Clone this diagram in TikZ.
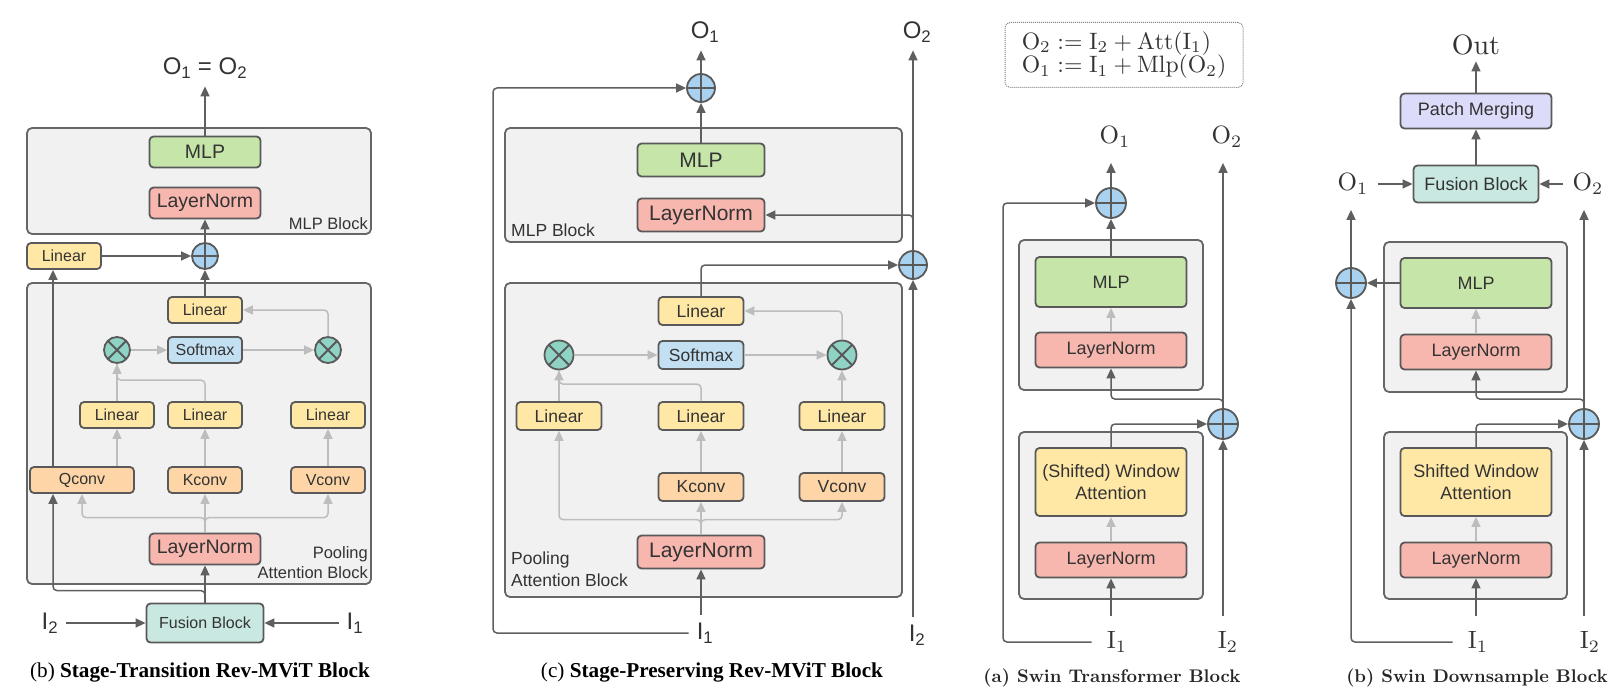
\RequirePackage{fix-cm}
\documentclass[tikz,border=0pt]{standalone}
\usepackage{fontspec}
\newfontfamily\lsans{Liberation Sans}
\newfontfamily\lserif{Liberation Serif}
\usepackage{tikz}
\usetikzlibrary{arrows.meta}

\newcommand\fsz[2]{\fontsize{#1}{#2}\selectfont}
\newcommand\sclab[1]{\scalebox{2.5}{$#1$}}

\definecolor{blkfill}{HTML}{F1F1F1}
\definecolor{blkline}{HTML}{666666}
\definecolor{boxline}{HTML}{595959}
\definecolor{arrc}{HTML}{5F5F5F}
\definecolor{grayc}{HTML}{BDBDBD}
\definecolor{txt}{HTML}{333333}
\definecolor{mlpc}{HTML}{C6E5A9}
\definecolor{lnc}{HTML}{F8B7AE}
\definecolor{linc}{HTML}{FFE8A6}
\definecolor{convc}{HTML}{FDD5A6}
\definecolor{softc}{HTML}{C3E0F2}
\definecolor{mulc}{HTML}{8ED3C4}
\definecolor{plusc}{HTML}{A8D2EF}
\definecolor{fusec}{HTML}{C9E8E1}
\definecolor{patchc}{HTML}{DCDCFA}

\tikzset{
  blk/.style={draw=blkline, fill=blkfill, line width=1.8pt, rounded corners=5pt},
  bx/.style={draw=boxline, line width=1.8pt, rounded corners=4pt, inner sep=0pt, text=txt, align=center},
  tbig/.style={bx, minimum width=111pt, minimum height=31pt, font=\lsans\fsz{19.5}{22}},
  tsml/.style={bx, minimum width=74pt, minimum height=26pt, font=\lsans\fsz{16}{19}},
  pbig/.style={bx, minimum width=127pt, minimum height=33pt, font=\lsans\fsz{21}{24}},
  psml/.style={bx, minimum width=85pt, minimum height=28pt, font=\lsans\fsz{17.5}{20}},
  sbox/.style={bx, minimum width=151pt, minimum height=35pt, font=\lsans\fsz{18}{22}},
  plus/.style={circle, draw=boxline, line width=1.8pt, fill=plusc, minimum size=#1, inner sep=0pt,
    path picture={\draw[boxline, line width=1.8pt] (path picture bounding box.north) -- (path picture bounding box.south)
      (path picture bounding box.west) -- (path picture bounding box.east);}},
  plus/.default=28pt,
  mul/.style={circle, draw=boxline, line width=1.8pt, fill=mulc, minimum size=#1, inner sep=0pt,
    path picture={\draw[boxline, line width=1.8pt] (path picture bounding box.north west) -- (path picture bounding box.south east)
      (path picture bounding box.south west) -- (path picture bounding box.north east);}},
  mul/.default=28pt,
  lab/.style={text=txt, font=\lsans\fsz{24}{28}, inner sep=8pt},
  mlab/.style={text=txt, font=\fsz{10}{12}, inner sep=15pt},
  tnote/.style={text=txt, font=\lsans\fsz{16.5}{20}, inner sep=0pt},
  pnote/.style={text=txt, font=\lsans\fsz{17.5}{22}, inner sep=0pt},
  capt/.style={text=black, font=\lserif\fsz{21.2}{26}},
  scapt/.style={text=black!85, font=\bfseries\fsz{10}{12}},
  fbox/.style={draw=gray, densely dotted, line width=1pt, rounded corners=5pt, minimum width=238pt,
    minimum height=65pt, align=left, text=txt, font=\fsz{10}{12}},
  arr/.style={draw=arrc, line width=1.5pt, rounded corners=4pt, -{Triangle[length=10pt,width=9pt]}},
  garr/.style={arr, draw=grayc},
  gln/.style={draw=grayc, line width=1.5pt, rounded corners=4pt}
}

\begin{document}
\begin{tikzpicture}[x=1pt,y=-1pt]
\useasboundingbox (0,0) rectangle (1609,690);
%%% (b) stage-transition
%blocks
\draw[blk] (27,128) rectangle (371,234);
\draw[blk] (27,283) rectangle (371,584);
%boxes
\node[tbig, fill=mlpc] (tmlp) at (205,152) {MLP};
\node[tbig, fill=lnc] (tln2) at (205,203) {LayerNorm};
\node[plus=26pt] (tplus) at (205,256) {};
\node[tsml, fill=linc] (tlin0) at (64,256) {Linear};
\node[tsml, fill=linc] (tlin) at (205,310) {Linear};
\node[tsml, fill=softc] (tsoft) at (205,350) {Softmax};
\node[mul=26pt] (tmulq) at (117,350) {};
\node[mul=26pt] (tmulv) at (328,350) {};
\node[tsml, fill=linc] (tlinq) at (117,415) {Linear};
\node[tsml, fill=linc] (tlink) at (205,415) {Linear};
\node[tsml, fill=linc] (tlinv) at (328,415) {Linear};
\node[tsml, fill=convc, minimum width=104pt] (tqconv) at (82,480) {Qconv};
\node[tsml, fill=convc] (tkconv) at (205,480) {Kconv};
\node[tsml, fill=convc] (tvconv) at (328,480) {Vconv};
\node[tbig, fill=lnc] (tln1) at (205,549) {LayerNorm};
\node[tsml, fill=fusec, minimum width=117pt, minimum height=39pt] (tfuse) at (205,623) {Fusion Block};
%labels
\node[lab] (tout) at (205,68) {O\textsubscript{1} = O\textsubscript{2}};
\node[lab] (tin2) at (50,623) {I\textsubscript{2}};
\node[lab] (tin1) at (355,623) {I\textsubscript{1}};
\node[tnote, anchor=east] (tmlpl) at (368,224) {MLP Block};
\node[tnote, anchor=east, align=right] (tattl) at (368,563) {Pooling\\Attention Block};
\node[capt] (tcap) at (200,672) {(b) \textbf{Stage-Transition Rev-MViT Block}};
%edges
\coordinate (tqx) at (53,0);
\draw[arr] (tmlp.north) -- (tmlp.north |- tout.south);
\draw[arr] (tplus) -- (tln2);
\draw[arr] (tlin0) -- (tplus);
\draw[arr] (tlin) -- (tplus);
\draw[garr] (tmulq) -- (tsoft);
\draw[garr] (tsoft) -- (tmulv);
\draw[garr] (tmulv.north) |- (tlin.east);
\draw[garr] (tlinq) -- (tmulq);
\draw[gln] (tlink.north) -- ++(0,-21) -| (tmulq.south);
\draw[garr] (tlinq.south |- tqconv.north) -- (tlinq.south);
\draw[garr] (tkconv) -- (tlink);
\draw[garr] (tvconv) -- (tlinv);
\draw[garr] (tln1.north) -- ++(0,-15) -| (tqconv.south);
\draw[garr] (tln1) -- (tkconv);
\draw[garr] (tln1.north) -- ++(0,-15) -| (tvconv.south);
\draw[arr] (tfuse) -- (tln1);
\draw[arr] (tfuse.north) -- ++(0,-12) -| (tqconv.south -| tqx);
\draw[arr] (tqconv.north -| tqx) -- (tlin0.south -| tqx);
\draw[arr] (tin2) -- (tfuse);
\draw[arr] (tin1) -- (tfuse);

%%% (c) stage-preserving
%blocks
\draw[blk] (505,128) rectangle (902,242);
\draw[blk] (505,283) rectangle (902,597);
%boxes
\node[pbig, fill=mlpc] (pmlp) at (701,160) {MLP};
\node[pbig, fill=lnc] (pln2) at (701,215) {LayerNorm};
\node[plus] (pplus1) at (701,88) {};
\node[plus] (pplus2) at (913,265) {};
\node[psml, fill=linc] (plin) at (701,311) {Linear};
\node[psml, fill=softc] (psoft) at (701,355) {Softmax};
\node[mul=29pt] (pmulq) at (559,355) {};
\node[mul=29pt] (pmulv) at (842,355) {};
\node[psml, fill=linc] (plinq) at (559,416) {Linear};
\node[psml, fill=linc] (plink) at (701,416) {Linear};
\node[psml, fill=linc] (plinv) at (842,416) {Linear};
\node[psml, fill=convc] (pkconv) at (701,487) {Kconv};
\node[psml, fill=convc] (pvconv) at (842,487) {Vconv};
\node[pbig, fill=lnc] (pln1) at (701,552) {LayerNorm};
%labels
\node[lab] (pout1) at (705,32) {O\textsubscript{1}};
\node[lab] (pout2) at (917,32) {O\textsubscript{2}};
\node[lab] (pin1) at (705,633) {I\textsubscript{1}};
\node[lab] (pin2) at (917,635) {I\textsubscript{2}};
\node[pnote, anchor=west] (pmlpl) at (511,230) {MLP Block};
\node[pnote, anchor=west, align=left] (pattl) at (511,569) {Pooling\\Attention Block};
\node[capt] (pcap) at (712,672) {(c) \textbf{Stage-Preserving Rev-MViT Block}};
%edges
\coordinate (pskip) at (493,0);
\draw[arr] (pplus1.north) -- (pplus1.north |- pout1.south);
\draw[arr] (pmlp) -- (pplus1);
\draw[arr] (pin1.west) -| (pskip |- pplus1) -- (pplus1.west);
\draw[arr] (pln1.south |- pin1.north) -- (pln1.south);
\draw[garr] (pln1.north) -- ++(0,-15) -| (plinq.south);
\draw[garr] (pln1) -- (pkconv);
\draw[garr] (pln1.north) -- ++(0,-15) -| (pvconv.south);
\draw[garr] (pkconv) -- (plink);
\draw[garr] (pvconv) -- (plinv);
\draw[garr] (plinq) -- (pmulq);
\draw[gln] (plink.north) -- ++(0,-17) -| (pmulq.south);
\draw[garr] (plinv) -- (pmulv);
\draw[garr] (pmulq) -- (psoft);
\draw[garr] (psoft) -- (pmulv);
\draw[garr] (pmulv.north) |- (plin.east);
\draw[arr] (plin.north) |- (pplus2.west);
\draw[arr] (pplus2.south |- pin2.north) -- (pplus2.south);
\draw[arr] (pplus2.north) -- (pplus2.north |- pout2.south);
\draw[arr] (pplus2.north) |- (pln2.east);

%%% (a) swin transformer
%blocks
\draw[blk] (1019,240) rectangle (1203,390);
\draw[blk] (1019,432) rectangle (1203,599);
%boxes
\node[fbox] (sfml) at (1124,55) {\scalebox{2.37}{$\mathrm{O}_2 := \mathrm{I}_2 + \mathrm{Att}(\mathrm{I}_1)$}\\[-1pt]
  \scalebox{2.37}{$\mathrm{O}_1 := \mathrm{I}_1 + \mathrm{Mlp}(\mathrm{O}_2)$}};
\node[sbox, fill=mlpc, minimum height=50pt] (smlp) at (1111,282) {MLP};
\node[sbox, fill=lnc] (sln2) at (1111,350) {LayerNorm};
\node[sbox, fill=linc, minimum height=68pt] (sattn) at (1111,482) {(Shifted) Window\\Attention};
\node[sbox, fill=lnc] (sln1) at (1111,560) {LayerNorm};
\node[plus=30pt] (splus1) at (1111,203) {};
\node[plus=30pt] (splus2) at (1223,424) {};
%labels
\node[mlab] (sout1) at (1115,137) {\sclab{\mathrm{O}_1}};
\node[mlab] (sout2) at (1227,137) {\sclab{\mathrm{O}_2}};
\node[mlab] (sin1) at (1117,642) {\sclab{\mathrm{I}_1}};
\node[mlab] (sin2) at (1228,642) {\sclab{\mathrm{I}_2}};
\node[scapt] (scap) at (1112,678) {\scalebox{1.83}{(a) Swin Transformer Block}};
%edges
\coordinate (sskip) at (1003,0);
\draw[arr] (splus1.north) -- (splus1.north |- sout1.south);
\draw[arr] (smlp) -- (splus1);
\draw[arr] (sin1.west) -| (sskip |- splus1) -- (splus1.west);
\draw[arr] (sln1.south |- sin1.north) -- (sln1.south);
\draw[garr] (sln1) -- (sattn);
\draw[arr] (sattn.north) |- (splus2.west);
\draw[arr] (splus2.south |- sin2.north) -- (splus2.south);
\draw[arr] (splus2.north) -- (splus2.north |- sout2.south);
\draw[arr] (splus2.north) -- ++(0,-9) -| (sln2.south);
\draw[garr] (sln2) -- (smlp);

%%% (b) swin downsample
%blocks
\draw[blk] (1384,242) rectangle (1567,392);
\draw[blk] (1384,432) rectangle (1567,599);
%boxes
\node[sbox, fill=patchc] (dpatch) at (1476,111) {Patch Merging};
\node[sbox, fill=fusec, minimum width=125pt, minimum height=37pt] (dfuse) at (1476,184) {Fusion Block};
\node[sbox, fill=mlpc, minimum height=50pt] (dmlp) at (1476,283) {MLP};
\node[sbox, fill=lnc] (dln2) at (1476,352) {LayerNorm};
\node[sbox, fill=linc, minimum height=68pt] (dattn) at (1476,482) {Shifted Window\\Attention};
\node[sbox, fill=lnc] (dln1) at (1476,560) {LayerNorm};
\node[plus=30pt] (dplus1) at (1351,283) {};
\node[plus=30pt] (dplus2) at (1584,424) {};
%labels
\node[mlab, inner sep=6pt] (dout) at (1476,45) {\scalebox{2.8}{Out}};
\node[mlab, inner xsep=9pt] (dout1) at (1353,184) {\sclab{\mathrm{O}_1}};
\node[mlab, inner xsep=9pt] (dout2) at (1588,184) {\sclab{\mathrm{O}_2}};
\node[mlab] (din1) at (1478,642) {\sclab{\mathrm{I}_1}};
\node[mlab] (din2) at (1590,642) {\sclab{\mathrm{I}_2}};
\node[scapt] (dcap) at (1477,678) {\scalebox{1.83}{(b) Swin Downsample Block}};
%edges
\draw[arr] (dpatch.north) -- (dpatch.north |- dout.south);
\draw[arr] (dfuse) -- (dpatch);
\draw[arr] (dout1) -- (dfuse);
\draw[arr] (dout2) -- (dfuse);
\draw[arr] (dplus1.north) -- (dplus1.north |- dout1.south);
\draw[arr] (din1.west) -| (dplus1.south);
\draw[arr] (dmlp) -- (dplus1);
\draw[arr] (dln1.south |- din1.north) -- (dln1.south);
\draw[garr] (dln1) -- (dattn);
\draw[garr] (dln2) -- (dmlp);
\draw[arr] (dattn.north) |- (dplus2.west);
\draw[arr] (dplus2.north) -- ++(0,-9) -| (dln2.south);
\draw[arr] (dplus2.north) -- (dplus2.north |- dout2.south);
\draw[arr] (dplus2.south |- din2.north) -- (dplus2.south);
\end{tikzpicture}
\end{document}
